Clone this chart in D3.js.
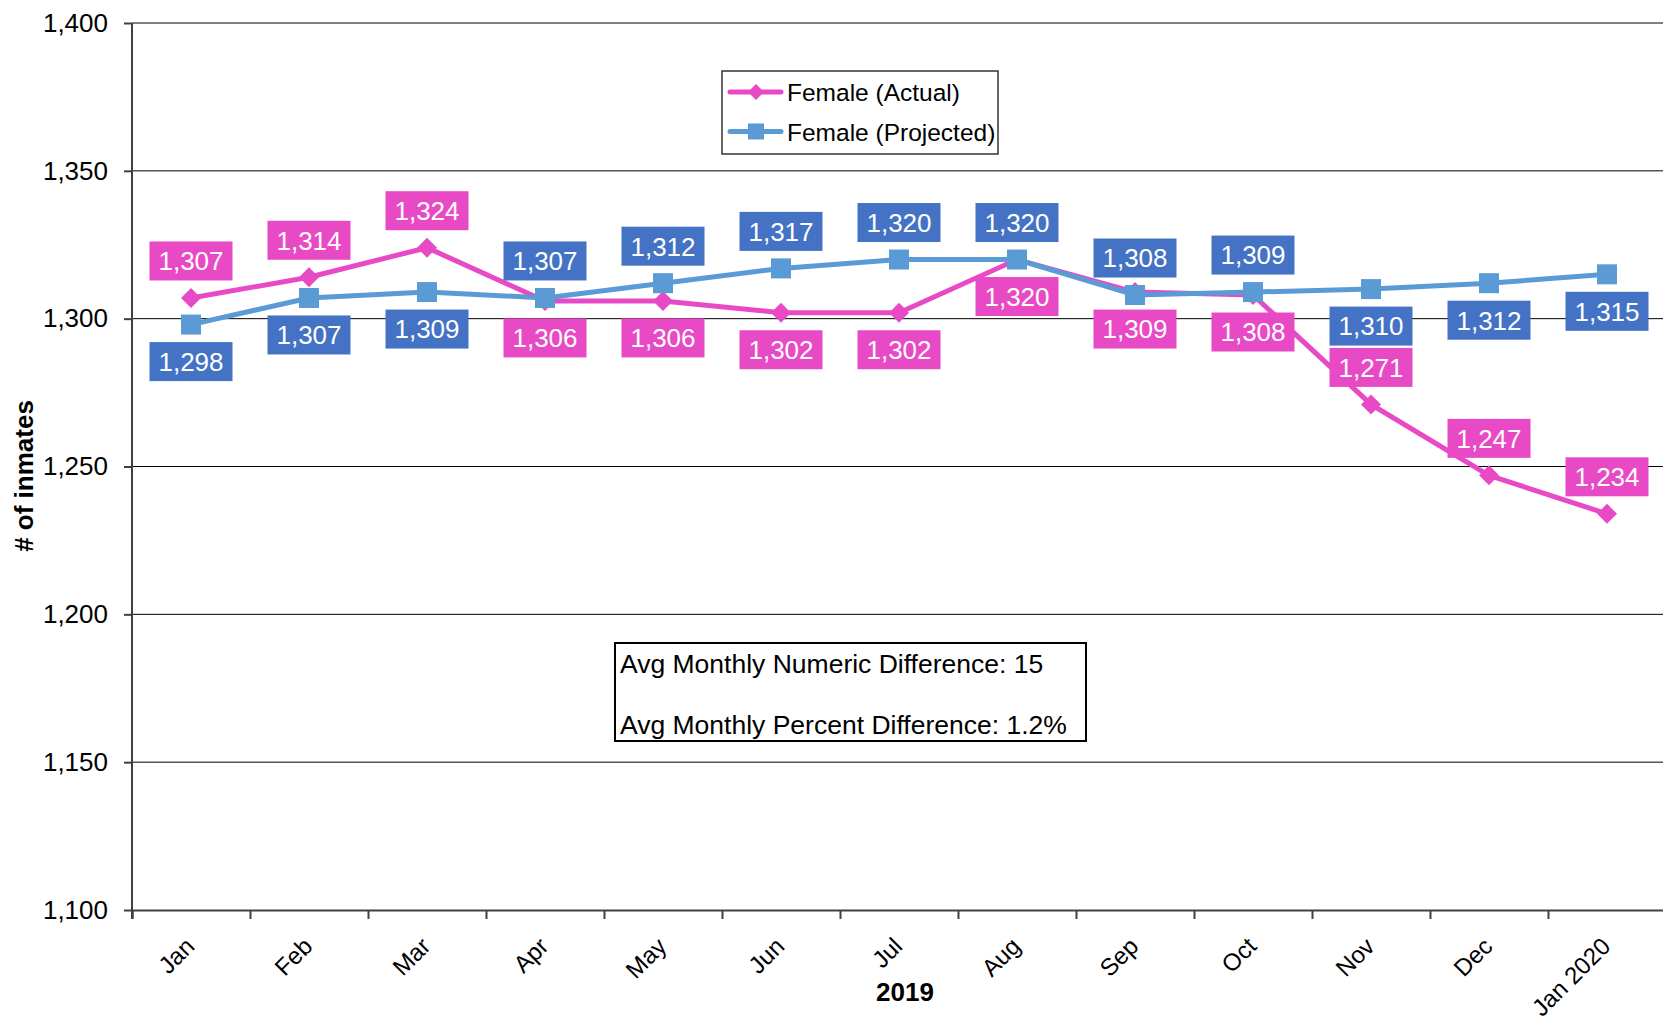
<!DOCTYPE html>
<html>
    <head>
        <meta charset="UTF-8">
        <title>Female inmates - actual vs projected</title>
        <style>
            body { margin: 0; background: #fff; }
            svg { font-family: "Liberation Sans", Arial, sans-serif; }
            .grid line { stroke: #000; stroke-width: 1px; }
            .axis path, .axis line { stroke: #404040; stroke-width: 2px; }
            .axis text { font-size: 26px; fill: #000; }
        </style>
    </head>
    <body>
        <script src="https://d3js.org/d3.v7.min.js"></script>
        <script type="text/javascript">

            // data
            var months = ["Jan", "Feb", "Mar", "Apr", "May", "Jun", "Jul", "Aug", "Sep", "Oct", "Nov", "Dec", "Jan 2020"];
            var actual = [1307, 1314, 1324, 1306, 1306, 1302, 1302, 1320, 1309, 1308, 1271, 1247, 1234];
            var projected = [1298, 1307, 1309, 1307, 1312, 1317, 1320, 1320, 1308, 1309, 1310, 1312, 1315];
            var yTicks = [1100, 1150, 1200, 1250, 1300, 1350, 1400];
            var seriesNames = ["Female (Actual)", "Female (Projected)"];
            var notes = ["Avg Monthly Numeric Difference: 15", "Avg Monthly Percent Difference: 1.2%"];

            // where each data label sits (1 = above the point, -1 = below)
            var actualSide = [1, 1, 1, -1, -1, -1, -1, -1, -1, -1, 1, 1, 1];
            var projectedSide = [-1, -1, -1, 1, 1, 1, 1, 1, 1, 1, -1, -1, -1];

            var pink = "#E84AC6", pinkBox = "#E84AC6";
            var blue = "#5B9BD5", blueBox = "#4472C4";

            var margin = {top: 23, left: 132};
            var step = 118;
            var width = step * months.length;
            var height = 887;

            var svg = d3.select("body")
                .append("svg")
                .attr("width", 1663)
                .attr("height", 1021);

            var g = svg.append("g")
                .attr("transform", "translate(" + margin.left + "," + margin.top + ")");

            var x = d3.scaleBand().domain(months).range([0, width]).padding(0);
            var y = d3.scaleLinear().domain([1100, 1400]).range([height, 0]);
            var cx = function(d, i) { return x(months[i]) + x.bandwidth() / 2; };

            // gridlines
            g.append("g").attr("class", "grid")
                .selectAll("line")
                .data(yTicks.slice(1, -1))
                .enter().append("line")
                .attr("x1", 0).attr("x2", width)
                .attr("y1", function(d) { return y(d); })
                .attr("y2", function(d) { return y(d); });

            g.append("line")
                .attr("x1", 0).attr("x2", width)
                .attr("y1", y(1400)).attr("y2", y(1400))
                .attr("stroke", "#808080").attr("stroke-width", 2);

            // y axis
            var yAxis = d3.axisLeft(y).tickValues(yTicks).tickFormat(d3.format(",")).tickSize(8).tickPadding(16);
            g.append("g").attr("class", "axis y").call(yAxis)
                .select(".domain").attr("d", "M0," + (height + 9) + "V0");

            // x axis: ticks on the category boundaries
            var xb = d3.scaleLinear().domain([0, months.length]).range([0, width]);
            g.append("g").attr("class", "axis x")
                .attr("transform", "translate(0," + height + ")")
                .call(d3.axisBottom(xb).ticks(months.length).tickSize(9).tickFormat(""));

            g.append("g")
                .selectAll("text")
                .data(months)
                .enter().append("text")
                .attr("transform", function(d, i) {
                    return "translate(" + (cx(d, i) - 7) + "," + (height + 26) + ") rotate(-45)";
                })
                .attr("text-anchor", "end")
                .attr("dy", "0.7em")
                .style("font-size", "24px")
                .text(function(d) { return d; });

            // axis titles
            svg.append("text")
                .attr("x", 905).attr("y", 1001)
                .attr("text-anchor", "middle")
                .style("font-size", "26px").style("font-weight", "bold")
                .text("2019");

            svg.append("text")
                .attr("transform", "translate(33,476) rotate(-90)")
                .attr("text-anchor", "middle")
                .style("font-size", "26px").style("font-weight", "bold")
                .text("# of inmates");

            // lines
            var line = d3.line().x(cx).y(function(d) { return y(d); });

            g.append("path").attr("d", line(actual))
                .attr("fill", "none").attr("stroke", pink).attr("stroke-width", 5);
            g.selectAll(".dia").data(actual).enter().append("path")
                .attr("class", "dia")
                .attr("transform", function(d, i) { return "translate(" + cx(d, i) + "," + y(d) + ")"; })
                .attr("d", "M0,-10L10,0L0,10L-10,0Z")
                .attr("fill", pink);

            g.append("path").attr("d", line(projected))
                .attr("fill", "none").attr("stroke", blue).attr("stroke-width", 5);
            g.selectAll(".sq").data(projected).enter().append("rect")
                .attr("class", "sq")
                .attr("x", function(d, i) { return cx(d, i) - 10; })
                .attr("y", function(d) { return y(d) - 10; })
                .attr("width", 20).attr("height", 20)
                .attr("fill", blue);

            // data labels
            function labels(values, sides, color) {
                var lab = g.append("g").selectAll("g")
                    .data(values).enter().append("g")
                    .attr("transform", function(d, i) {
                        return "translate(" + cx(d, i) + "," + (y(d) - sides[i] * 37) + ")";
                    });
                lab.append("rect")
                    .attr("x", -41.5).attr("y", -19.5)
                    .attr("width", 83).attr("height", 39)
                    .attr("fill", color);
                lab.append("text")
                    .attr("text-anchor", "middle")
                    .attr("dy", "0.36em")
                    .style("font-size", "26px")
                    .attr("fill", "#fff")
                    .text(function(d) { return d3.format(",")(d); });
            }
            labels(actual, actualSide, pinkBox);
            labels(projected, projectedSide, blueBox);

            // legend
            var legend = svg.append("g");
            legend.append("rect")
                .attr("x", 722).attr("y", 71).attr("width", 276).attr("height", 83)
                .attr("fill", "#fff").attr("stroke", "#333").attr("stroke-width", 1.5);
            [pink, blue].forEach(function(c, i) {
                var ly = 92 + i * 39.5;
                legend.append("line")
                    .attr("x1", 730).attr("x2", 781).attr("y1", ly).attr("y2", ly)
                    .attr("stroke", c).attr("stroke-width", 5).attr("stroke-linecap", "round");
                if (i === 0) {
                    legend.append("path")
                        .attr("transform", "translate(756," + ly + ")")
                        .attr("d", "M0,-8L8,0L0,8L-8,0Z").attr("fill", c);
                } else {
                    legend.append("rect")
                        .attr("x", 748).attr("y", ly - 8).attr("width", 16).attr("height", 16)
                        .attr("fill", c);
                }
                legend.append("text")
                    .attr("x", 787).attr("y", ly + 9)
                    .style("font-size", "24.5px")
                    .text(seriesNames[i]);
            });

            // annotation box
            var note = svg.append("g");
            note.append("rect")
                .attr("x", 615).attr("y", 643).attr("width", 471).attr("height", 98)
                .attr("fill", "#fff").attr("stroke", "#000").attr("stroke-width", 2);
            note.selectAll("text").data(notes).enter().append("text")
                .attr("x", 620)
                .attr("y", function(d, i) { return 673 + i * 61; })
                .style("font-size", "26.5px")
                .text(function(d) { return d; });

        </script>
    </body>
</html>
